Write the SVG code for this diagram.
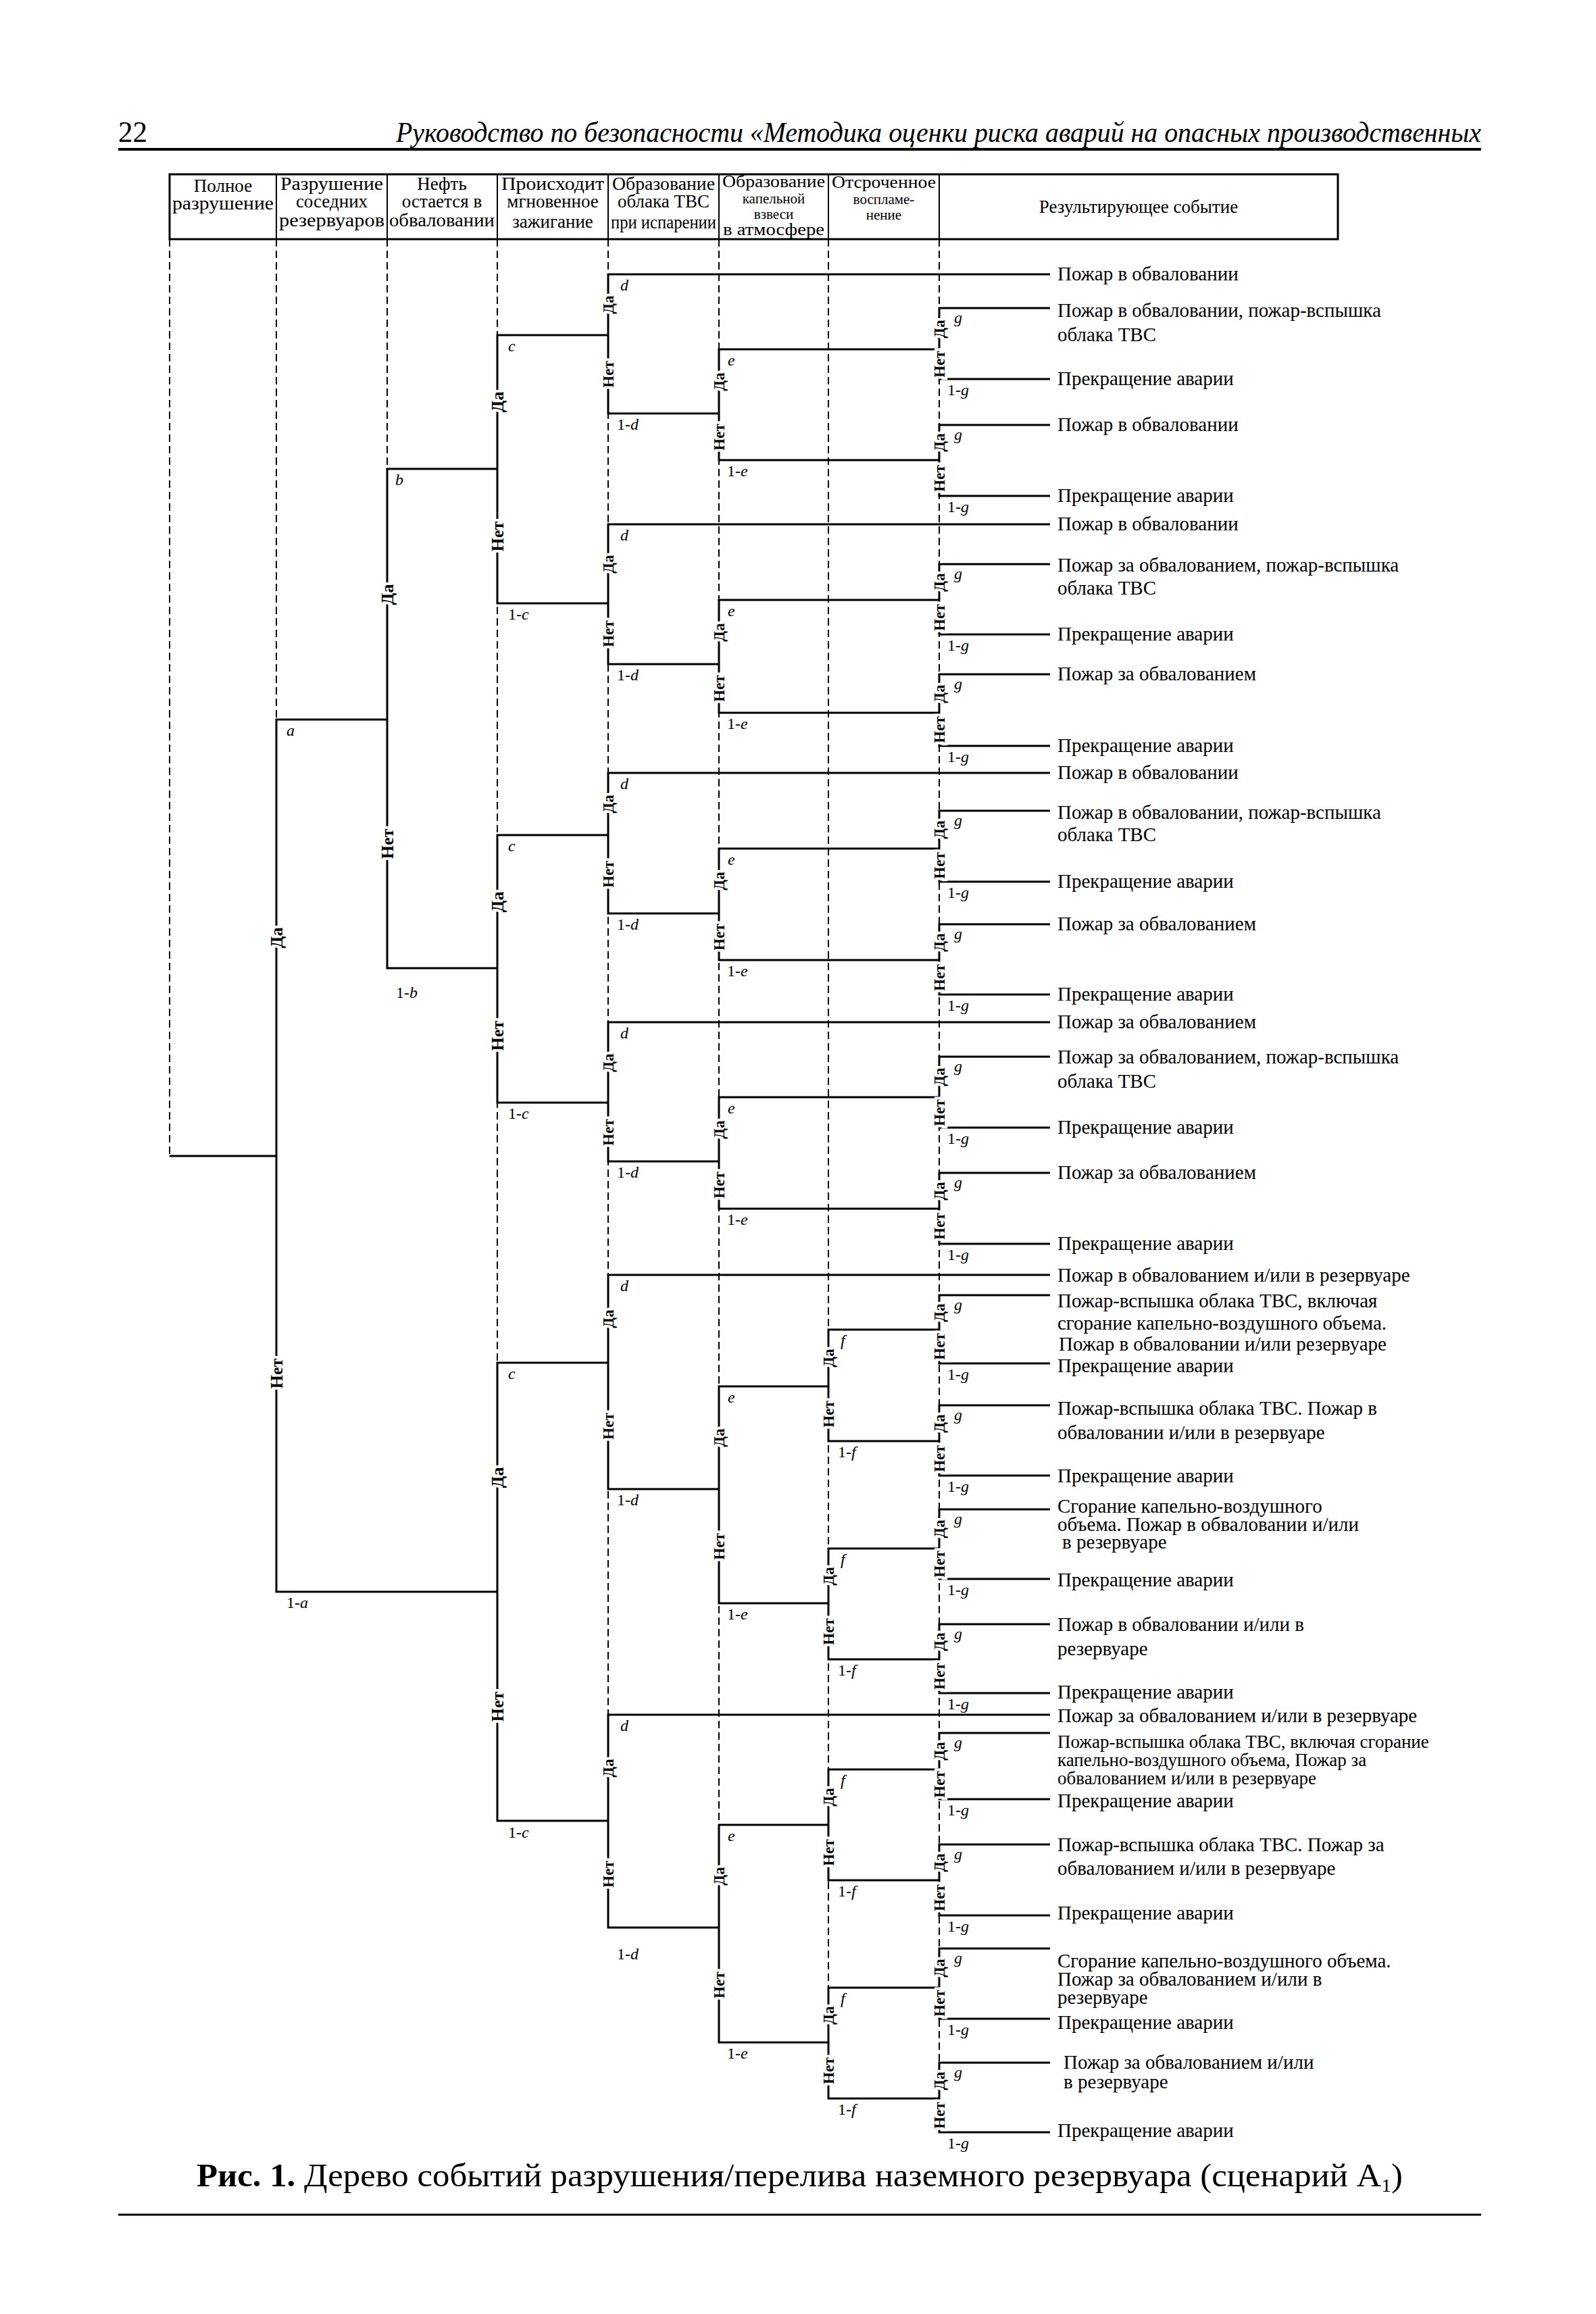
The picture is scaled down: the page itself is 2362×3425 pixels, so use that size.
<svg xmlns="http://www.w3.org/2000/svg" width="2362" height="3425" viewBox="0 0 2362 3425">
<style>
.col{stroke:#000;stroke-width:2;stroke-dasharray:11 6;fill:none}
.br{stroke:#000;stroke-width:3;fill:none}
.rule{stroke:#000;stroke-width:4}
.tb{stroke:#000;stroke-width:3;fill:none}
.tc{stroke:#000;stroke-width:2}
.yn{font-family:"Liberation Serif",serif;font-size:23px;font-weight:bold;text-anchor:middle;fill:#000;stroke:#fff;stroke-width:8px;paint-order:stroke}
.yb{font-size:26px}
.pl{font-family:"Liberation Serif",serif;font-size:24px;fill:#000}
.it{font-style:italic}
.ev{font-family:"Liberation Serif",serif;font-size:29px;fill:#000}
.ev2{font-size:27px}
.hd{font-family:"Liberation Serif",serif;font-size:27px;text-anchor:middle;fill:#000}
.hm{font-size:25px}
.hs{font-size:21px}
</style>
<rect width="2362" height="3425" fill="#fff"/>

<g id="page-header">
<text x="175" y="210" font-family="Liberation Serif,serif" font-size="44" textLength="43" lengthAdjust="spacingAndGlyphs">22</text>
<text x="586" y="210" font-family="Liberation Serif,serif" font-size="42" font-style="italic" textLength="1606" lengthAdjust="spacingAndGlyphs">Руководство по безопасности «Методика оценки риска аварий на опасных производственных</text>
<line class="rule" x1="175" y1="221" x2="2192" y2="221"/>
</g>

<g id="header-table">
<rect class="tb" x="251" y="258" width="1729" height="96"/>
<line class="tc" x1="409" y1="258" x2="409" y2="354"/>
<line class="tc" x1="573" y1="258" x2="573" y2="354"/>
<line class="tc" x1="736" y1="258" x2="736" y2="354"/>
<line class="tc" x1="900" y1="258" x2="900" y2="354"/>
<line class="tc" x1="1064" y1="258" x2="1064" y2="354"/>
<line class="tc" x1="1226" y1="258" x2="1226" y2="354"/>
<line class="tc" x1="1390" y1="258" x2="1390" y2="354"/>
<text class="hd" x="330" y="284">Полное</text>
<text class="hd" x="330" y="310" textLength="150" lengthAdjust="spacingAndGlyphs">разрушение</text>
<text class="hd" x="491" y="281" textLength="152" lengthAdjust="spacingAndGlyphs">Разрушение</text>
<text class="hd" x="491" y="307">соседних</text>
<text class="hd" x="491" y="335" textLength="156" lengthAdjust="spacingAndGlyphs">резервуаров</text>
<text class="hd" x="654" y="281">Нефть</text>
<text class="hd" x="654" y="307">остается в</text>
<text class="hd" x="654" y="335" textLength="156" lengthAdjust="spacingAndGlyphs">обваловании</text>
<text class="hd" x="818" y="281" textLength="152" lengthAdjust="spacingAndGlyphs">Происходит</text>
<text class="hd" x="818" y="307">мгновенное</text>
<text class="hd" x="818" y="337">зажигание</text>
<text class="hd" x="982" y="281" textLength="152" lengthAdjust="spacingAndGlyphs">Образование</text>
<text class="hd" x="982" y="307">облака ТВС</text>
<text class="hd" x="982" y="338" textLength="156" lengthAdjust="spacingAndGlyphs">при испарении</text>
<text class="hd hm" x="1145" y="277" textLength="152" lengthAdjust="spacingAndGlyphs">Образование</text>
<text class="hd hs" x="1145" y="301">капельной</text>
<text class="hd hs" x="1145" y="324">взвеси</text>
<text class="hd hm" x="1145" y="348" textLength="150" lengthAdjust="spacingAndGlyphs">в атмосфере</text>
<text class="hd hm" x="1308" y="278" textLength="154" lengthAdjust="spacingAndGlyphs">Отсроченное</text>
<text class="hd hs" x="1308" y="302">воспламе-</text>
<text class="hd hs" x="1308" y="325">нение</text>
<text class="hd" x="1685" y="315">Результирующее событие</text>
</g>

<g id="columns">
<line class="col" x1="251" y1="354" x2="251" y2="1711"/>
<line class="col" x1="409" y1="354" x2="409" y2="1065"/>
<line class="col" x1="573" y1="354" x2="573" y2="694"/>
<line class="col" x1="736" y1="354" x2="736" y2="2695"/>
<line class="col" x1="900" y1="354" x2="900" y2="2853"/>
<line class="col" x1="1064" y1="354" x2="1064" y2="3023"/>
<line class="col" x1="1226" y1="354" x2="1226" y2="3106"/>
<line class="col" x1="1390" y1="354" x2="1390" y2="3156"/>
</g>

<g id="connectors">
<path class="br" d="M251 1711 H409"/>
<path class="br" d="M573 1065 H409 V2356 H736"/>
<path class="br" d="M736 694 H573 V1433 H736"/>
<path class="br" d="M900 496 H736 V893 H900"/>
<path class="br" d="M900 1236 H736 V1632 H900"/>
<path class="br" d="M900 2017 H736 V2695 H900"/>
<path class="br" d="M1554 406 H900 V612 H1064"/>
<path class="br" d="M1554 776 H900 V983 H1064"/>
<path class="br" d="M1554 1144 H900 V1352 H1064"/>
<path class="br" d="M1554 1513 H900 V1719 H1064"/>
<path class="br" d="M1554 1887 H900 V2204 H1064"/>
<path class="br" d="M1554 2538 H900 V2853 H1064"/>
<path class="br" d="M1390 517 H1064 V681 H1390"/>
<path class="br" d="M1390 888 H1064 V1055 H1390"/>
<path class="br" d="M1390 1256 H1064 V1421 H1390"/>
<path class="br" d="M1390 1624 H1064 V1789 H1390"/>
<path class="br" d="M1226 2052 H1064 V2373 H1226"/>
<path class="br" d="M1226 2701 H1064 V3023 H1226"/>
<path class="br" d="M1390 1968 H1226 V2133 H1390"/>
<path class="br" d="M1390 2292 H1226 V2456 H1390"/>
<path class="br" d="M1390 2619 H1226 V2783 H1390"/>
<path class="br" d="M1390 2942 H1226 V3106 H1390"/>
<path class="br" d="M1554 456 H1390 V561 H1554"/>
<path class="br" d="M1554 629 H1390 V734 H1554"/>
<path class="br" d="M1554 835 H1390 V939 H1554"/>
<path class="br" d="M1554 998 H1390 V1104 H1554"/>
<path class="br" d="M1554 1200 H1390 V1305 H1554"/>
<path class="br" d="M1554 1368 H1390 V1472 H1554"/>
<path class="br" d="M1554 1564 H1390 V1669 H1554"/>
<path class="br" d="M1554 1736 H1390 V1841 H1554"/>
<path class="br" d="M1554 1917 H1390 V2018 H1554"/>
<path class="br" d="M1554 2080 H1390 V2184 H1554"/>
<path class="br" d="M1554 2234 H1390 V2337 H1554"/>
<path class="br" d="M1554 2404 H1390 V2506 H1554"/>
<path class="br" d="M1554 2565 H1390 V2663 H1554"/>
<path class="br" d="M1554 2730 H1390 V2835 H1554"/>
<path class="br" d="M1554 2884 H1390 V2988 H1554"/>
<path class="br" d="M1554 3053 H1390 V3156 H1554"/>
</g>

<g id="node-a">
<text class="yn yb" transform="translate(409,1388) rotate(-90)" y="9">Да</text>
<text class="yn yb" transform="translate(409,2033) rotate(-90)" y="9">Нет</text>
<text class="pl" x="424" y="1089"><tspan class="it">a</tspan></text>
<text class="pl" x="424" y="2380">1-<tspan class="it">a</tspan></text>
</g>
<g id="node-b">
<text class="yn yb" transform="translate(573,880) rotate(-90)" y="9">Да</text>
<text class="yn yb" transform="translate(573,1249) rotate(-90)" y="9">Нет</text>
<text class="pl" x="585" y="718"><tspan class="it">b</tspan></text>
<text class="pl" x="586" y="1477">1-<tspan class="it">b</tspan></text>
</g>
<g id="node-c1">
<text class="yn yb" transform="translate(736,595) rotate(-90)" y="9">Да</text>
<text class="yn yb" transform="translate(736,794) rotate(-90)" y="9">Нет</text>
<text class="pl" x="752" y="520"><tspan class="it">c</tspan></text>
<text class="pl" x="752" y="917">1-<tspan class="it">c</tspan></text>
</g>
<g id="node-c2">
<text class="yn yb" transform="translate(736,1335) rotate(-90)" y="9">Да</text>
<text class="yn yb" transform="translate(736,1533) rotate(-90)" y="9">Нет</text>
<text class="pl" x="752" y="1260"><tspan class="it">c</tspan></text>
<text class="pl" x="752" y="1656">1-<tspan class="it">c</tspan></text>
</g>
<g id="node-c3">
<text class="yn yb" transform="translate(736,2187) rotate(-90)" y="9">Да</text>
<text class="yn yb" transform="translate(736,2526) rotate(-90)" y="9">Нет</text>
<text class="pl" x="752" y="2041"><tspan class="it">c</tspan></text>
<text class="pl" x="752" y="2720">1-<tspan class="it">c</tspan></text>
</g>

<g id="node-d1">
<text class="yn" transform="translate(900,451) rotate(-90)" y="8">Да</text>
<text class="yn" transform="translate(900,554) rotate(-90)" y="8">Нет</text>
<text class="pl" x="918" y="430"><tspan class="it">d</tspan></text>
<text class="pl" x="913" y="636">1-<tspan class="it">d</tspan></text>
</g>
<g id="node-d2">
<text class="yn" transform="translate(900,835) rotate(-90)" y="8">Да</text>
<text class="yn" transform="translate(900,938) rotate(-90)" y="8">Нет</text>
<text class="pl" x="918" y="800"><tspan class="it">d</tspan></text>
<text class="pl" x="913" y="1007">1-<tspan class="it">d</tspan></text>
</g>
<g id="node-d3">
<text class="yn" transform="translate(900,1190) rotate(-90)" y="8">Да</text>
<text class="yn" transform="translate(900,1294) rotate(-90)" y="8">Нет</text>
<text class="pl" x="918" y="1168"><tspan class="it">d</tspan></text>
<text class="pl" x="913" y="1376">1-<tspan class="it">d</tspan></text>
</g>
<g id="node-d4">
<text class="yn" transform="translate(900,1573) rotate(-90)" y="8">Да</text>
<text class="yn" transform="translate(900,1676) rotate(-90)" y="8">Нет</text>
<text class="pl" x="918" y="1537"><tspan class="it">d</tspan></text>
<text class="pl" x="913" y="1743">1-<tspan class="it">d</tspan></text>
</g>
<g id="node-d5">
<text class="yn" transform="translate(900,1952) rotate(-90)" y="8">Да</text>
<text class="yn" transform="translate(900,2111) rotate(-90)" y="8">Нет</text>
<text class="pl" x="918" y="1911"><tspan class="it">d</tspan></text>
<text class="pl" x="913" y="2228">1-<tspan class="it">d</tspan></text>
</g>
<g id="node-d6">
<text class="yn" transform="translate(900,2617) rotate(-90)" y="8">Да</text>
<text class="yn" transform="translate(900,2774) rotate(-90)" y="8">Нет</text>
<text class="pl" x="918" y="2562"><tspan class="it">d</tspan></text>
<text class="pl" x="913" y="2900">1-<tspan class="it">d</tspan></text>
</g>

<g id="node-e1">
<text class="yn" transform="translate(1064,565) rotate(-90)" y="8">Да</text>
<text class="yn" transform="translate(1064,647) rotate(-90)" y="8">Нет</text>
<text class="pl" x="1077" y="541"><tspan class="it">e</tspan></text>
<text class="pl" x="1076" y="705">1-<tspan class="it">e</tspan></text>
</g>
<g id="node-e2">
<text class="yn" transform="translate(1064,936) rotate(-90)" y="8">Да</text>
<text class="yn" transform="translate(1064,1019) rotate(-90)" y="8">Нет</text>
<text class="pl" x="1077" y="912"><tspan class="it">e</tspan></text>
<text class="pl" x="1076" y="1079">1-<tspan class="it">e</tspan></text>
</g>
<g id="node-e3">
<text class="yn" transform="translate(1064,1304) rotate(-90)" y="8">Да</text>
<text class="yn" transform="translate(1064,1387) rotate(-90)" y="8">Нет</text>
<text class="pl" x="1077" y="1280"><tspan class="it">e</tspan></text>
<text class="pl" x="1076" y="1445">1-<tspan class="it">e</tspan></text>
</g>
<g id="node-e4">
<text class="yn" transform="translate(1064,1672) rotate(-90)" y="8">Да</text>
<text class="yn" transform="translate(1064,1754) rotate(-90)" y="8">Нет</text>
<text class="pl" x="1077" y="1648"><tspan class="it">e</tspan></text>
<text class="pl" x="1076" y="1813">1-<tspan class="it">e</tspan></text>
</g>
<g id="node-e5">
<text class="yn" transform="translate(1064,2128) rotate(-90)" y="8">Да</text>
<text class="yn" transform="translate(1064,2289) rotate(-90)" y="8">Нет</text>
<text class="pl" x="1077" y="2076"><tspan class="it">e</tspan></text>
<text class="pl" x="1076" y="2397">1-<tspan class="it">e</tspan></text>
</g>
<g id="node-e6">
<text class="yn" transform="translate(1064,2777) rotate(-90)" y="8">Да</text>
<text class="yn" transform="translate(1064,2938) rotate(-90)" y="8">Нет</text>
<text class="pl" x="1077" y="2725"><tspan class="it">e</tspan></text>
<text class="pl" x="1076" y="3047">1-<tspan class="it">e</tspan></text>
</g>

<g id="node-f1">
<text class="yn" transform="translate(1226,2010) rotate(-90)" y="8">Да</text>
<text class="yn" transform="translate(1226,2093) rotate(-90)" y="8">Нет</text>
<text class="pl" x="1244" y="1992"><tspan class="it">f</tspan></text>
<text class="pl" x="1240" y="2157">1-<tspan class="it">f</tspan></text>
</g>
<g id="node-f2">
<text class="yn" transform="translate(1226,2333) rotate(-90)" y="8">Да</text>
<text class="yn" transform="translate(1226,2415) rotate(-90)" y="8">Нет</text>
<text class="pl" x="1244" y="2316"><tspan class="it">f</tspan></text>
<text class="pl" x="1240" y="2480">1-<tspan class="it">f</tspan></text>
</g>
<g id="node-f3">
<text class="yn" transform="translate(1226,2660) rotate(-90)" y="8">Да</text>
<text class="yn" transform="translate(1226,2742) rotate(-90)" y="8">Нет</text>
<text class="pl" x="1244" y="2643"><tspan class="it">f</tspan></text>
<text class="pl" x="1240" y="2807">1-<tspan class="it">f</tspan></text>
</g>
<g id="node-f4">
<text class="yn" transform="translate(1226,2983) rotate(-90)" y="8">Да</text>
<text class="yn" transform="translate(1226,3065) rotate(-90)" y="8">Нет</text>
<text class="pl" x="1244" y="2966"><tspan class="it">f</tspan></text>
<text class="pl" x="1240" y="3130">1-<tspan class="it">f</tspan></text>
</g>

<g id="nodes-g">
<g id="node-g1"><text class="yn" transform="translate(1390,487) rotate(-90)" y="8">Да</text><text class="yn" transform="translate(1390,539) rotate(-90)" y="8">Нет</text><text class="pl" x="1412" y="478"><tspan class="it">g</tspan></text><text class="pl" x="1402" y="585">1-<tspan class="it">g</tspan></text></g>
<g id="node-g2"><text class="yn" transform="translate(1390,655) rotate(-90)" y="8">Да</text><text class="yn" transform="translate(1390,708) rotate(-90)" y="8">Нет</text><text class="pl" x="1412" y="651"><tspan class="it">g</tspan></text><text class="pl" x="1402" y="758">1-<tspan class="it">g</tspan></text></g>
<g id="node-g3"><text class="yn" transform="translate(1390,862) rotate(-90)" y="8">Да</text><text class="yn" transform="translate(1390,914) rotate(-90)" y="8">Нет</text><text class="pl" x="1412" y="857"><tspan class="it">g</tspan></text><text class="pl" x="1402" y="963">1-<tspan class="it">g</tspan></text></g>
<g id="node-g4"><text class="yn" transform="translate(1390,1027) rotate(-90)" y="8">Да</text><text class="yn" transform="translate(1390,1080) rotate(-90)" y="8">Нет</text><text class="pl" x="1412" y="1020"><tspan class="it">g</tspan></text><text class="pl" x="1402" y="1128">1-<tspan class="it">g</tspan></text></g>
<g id="node-g5"><text class="yn" transform="translate(1390,1228) rotate(-90)" y="8">Да</text><text class="yn" transform="translate(1390,1281) rotate(-90)" y="8">Нет</text><text class="pl" x="1412" y="1222"><tspan class="it">g</tspan></text><text class="pl" x="1402" y="1329">1-<tspan class="it">g</tspan></text></g>
<g id="node-g6"><text class="yn" transform="translate(1390,1395) rotate(-90)" y="8">Да</text><text class="yn" transform="translate(1390,1447) rotate(-90)" y="8">Нет</text><text class="pl" x="1412" y="1390"><tspan class="it">g</tspan></text><text class="pl" x="1402" y="1496">1-<tspan class="it">g</tspan></text></g>
<g id="node-g7"><text class="yn" transform="translate(1390,1594) rotate(-90)" y="8">Да</text><text class="yn" transform="translate(1390,1647) rotate(-90)" y="8">Нет</text><text class="pl" x="1412" y="1586"><tspan class="it">g</tspan></text><text class="pl" x="1402" y="1693">1-<tspan class="it">g</tspan></text></g>
<g id="node-g8"><text class="yn" transform="translate(1390,1763) rotate(-90)" y="8">Да</text><text class="yn" transform="translate(1390,1815) rotate(-90)" y="8">Нет</text><text class="pl" x="1412" y="1758"><tspan class="it">g</tspan></text><text class="pl" x="1402" y="1865">1-<tspan class="it">g</tspan></text></g>
<g id="node-g9"><text class="yn" transform="translate(1390,1943) rotate(-90)" y="8">Да</text><text class="yn" transform="translate(1390,1993) rotate(-90)" y="8">Нет</text><text class="pl" x="1412" y="1939"><tspan class="it">g</tspan></text><text class="pl" x="1402" y="2042">1-<tspan class="it">g</tspan></text></g>
<g id="node-g10"><text class="yn" transform="translate(1390,2107) rotate(-90)" y="8">Да</text><text class="yn" transform="translate(1390,2159) rotate(-90)" y="8">Нет</text><text class="pl" x="1412" y="2102"><tspan class="it">g</tspan></text><text class="pl" x="1402" y="2208">1-<tspan class="it">g</tspan></text></g>
<g id="node-g11"><text class="yn" transform="translate(1390,2263) rotate(-90)" y="8">Да</text><text class="yn" transform="translate(1390,2315) rotate(-90)" y="8">Нет</text><text class="pl" x="1412" y="2256"><tspan class="it">g</tspan></text><text class="pl" x="1402" y="2361">1-<tspan class="it">g</tspan></text></g>
<g id="node-g12"><text class="yn" transform="translate(1390,2430) rotate(-90)" y="8">Да</text><text class="yn" transform="translate(1390,2481) rotate(-90)" y="8">Нет</text><text class="pl" x="1412" y="2426"><tspan class="it">g</tspan></text><text class="pl" x="1402" y="2530">1-<tspan class="it">g</tspan></text></g>
<g id="node-g13"><text class="yn" transform="translate(1390,2592) rotate(-90)" y="8">Да</text><text class="yn" transform="translate(1390,2641) rotate(-90)" y="8">Нет</text><text class="pl" x="1412" y="2587"><tspan class="it">g</tspan></text><text class="pl" x="1402" y="2687">1-<tspan class="it">g</tspan></text></g>
<g id="node-g14"><text class="yn" transform="translate(1390,2757) rotate(-90)" y="8">Да</text><text class="yn" transform="translate(1390,2809) rotate(-90)" y="8">Нет</text><text class="pl" x="1412" y="2752"><tspan class="it">g</tspan></text><text class="pl" x="1402" y="2859">1-<tspan class="it">g</tspan></text></g>
<g id="node-g15"><text class="yn" transform="translate(1390,2913) rotate(-90)" y="8">Да</text><text class="yn" transform="translate(1390,2965) rotate(-90)" y="8">Нет</text><text class="pl" x="1412" y="2906"><tspan class="it">g</tspan></text><text class="pl" x="1402" y="3012">1-<tspan class="it">g</tspan></text></g>
<g id="node-g16"><text class="yn" transform="translate(1390,3080) rotate(-90)" y="8">Да</text><text class="yn" transform="translate(1390,3131) rotate(-90)" y="8">Нет</text><text class="pl" x="1412" y="3075"><tspan class="it">g</tspan></text><text class="pl" x="1402" y="3180">1-<tspan class="it">g</tspan></text></g>
</g>

<g id="outcomes">
<g id="out-1"><text class="ev" x="1565" y="415">Пожар в обваловании</text></g>
<g id="out-2"><text class="ev" x="1565" y="469">Пожар в обваловании, пожар-вспышка</text><text class="ev" x="1565" y="505">облака ТВС</text></g>
<g id="out-3"><text class="ev" x="1565" y="570">Прекращение аварии</text></g>
<g id="out-4"><text class="ev" x="1565" y="638">Пожар в обваловании</text></g>
<g id="out-5"><text class="ev" x="1565" y="743">Прекращение аварии</text></g>
<g id="out-6"><text class="ev" x="1565" y="785">Пожар в обваловании</text></g>
<g id="out-7"><text class="ev" x="1565" y="846">Пожар за обвалованием, пожар-вспышка</text><text class="ev" x="1565" y="880">облака ТВС</text></g>
<g id="out-8"><text class="ev" x="1565" y="948">Прекращение аварии</text></g>
<g id="out-9"><text class="ev" x="1565" y="1007">Пожар за обвалованием</text></g>
<g id="out-10"><text class="ev" x="1565" y="1113">Прекращение аварии</text></g>
<g id="out-11"><text class="ev" x="1565" y="1153">Пожар в обваловании</text></g>
<g id="out-12"><text class="ev" x="1565" y="1212">Пожар в обваловании, пожар-вспышка</text><text class="ev" x="1565" y="1245">облака ТВС</text></g>
<g id="out-13"><text class="ev" x="1565" y="1314">Прекращение аварии</text></g>
<g id="out-14"><text class="ev" x="1565" y="1377">Пожар за обвалованием</text></g>
<g id="out-15"><text class="ev" x="1565" y="1481">Прекращение аварии</text></g>
<g id="out-16"><text class="ev" x="1565" y="1522">Пожар за обвалованием</text></g>
<g id="out-17"><text class="ev" x="1565" y="1574">Пожар за обвалованием, пожар-вспышка</text><text class="ev" x="1565" y="1610">облака ТВС</text></g>
<g id="out-18"><text class="ev" x="1565" y="1678">Прекращение аварии</text></g>
<g id="out-19"><text class="ev" x="1565" y="1745">Пожар за обвалованием</text></g>
<g id="out-20"><text class="ev" x="1565" y="1850">Прекращение аварии</text></g>
<g id="out-21"><text class="ev" x="1565" y="1897">Пожар в обвалованием и/или в резервуаре</text></g>
<g id="out-22"><text class="ev" x="1565" y="1935">Пожар-вспышка облака ТВС, включая</text><text class="ev" x="1565" y="1968">сгорание капельно-воздушного объема.</text><text class="ev" x="1567" y="1999">Пожар в обваловании и/или резервуаре</text></g>
<g id="out-23"><text class="ev" x="1565" y="2031">Прекращение аварии</text></g>
<g id="out-24"><text class="ev" x="1565" y="2094">Пожар-вспышка облака ТВС. Пожар в</text><text class="ev" x="1565" y="2130">обваловании и/или в резервуаре</text></g>
<g id="out-25"><text class="ev" x="1565" y="2194">Прекращение аварии</text></g>
<g id="out-26"><text class="ev" x="1565" y="2239">Сгорание капельно-воздушного</text><text class="ev" x="1565" y="2266">объема. Пожар в обваловании и/или</text><text class="ev" x="1572" y="2292">в резервуаре</text></g>
<g id="out-27"><text class="ev" x="1565" y="2348">Прекращение аварии</text></g>
<g id="out-28"><text class="ev" x="1565" y="2414">Пожар в обваловании и/или в</text><text class="ev" x="1565" y="2450">резервуаре</text></g>
<g id="out-29"><text class="ev" x="1565" y="2514">Прекращение аварии</text></g>
<g id="out-30"><text class="ev" x="1565" y="2549">Пожар за обвалованием и/или в резервуаре</text></g>
<g id="out-31"><text class="ev ev2" x="1565" y="2587">Пожар-вспышка облака ТВС, включая сгорание</text><text class="ev ev2" x="1565" y="2614">капельно-воздушного объема, Пожар за</text><text class="ev ev2" x="1565" y="2641">обвалованием и/или в резервуаре</text></g>
<g id="out-32"><text class="ev" x="1565" y="2675">Прекращение аварии</text></g>
<g id="out-33"><text class="ev" x="1565" y="2740">Пожар-вспышка облака ТВС. Пожар за</text><text class="ev" x="1565" y="2775">обвалованием и/или в резервуаре</text></g>
<g id="out-34"><text class="ev" x="1565" y="2841">Прекращение аварии</text></g>
<g id="out-35"><text class="ev" x="1565" y="2912">Сгорание капельно-воздушного объема.</text><text class="ev" x="1565" y="2939">Пожар за обвалованием и/или в</text><text class="ev" x="1565" y="2966">резервуаре</text></g>
<g id="out-36"><text class="ev" x="1565" y="3003">Прекращение аварии</text></g>
<g id="out-37"><text class="ev" x="1574" y="3062">Пожар за обвалованием и/или</text><text class="ev" x="1574" y="3091">в резервуаре</text></g>
<g id="out-38"><text class="ev" x="1565" y="3163">Прекращение аварии</text></g>
</g>

<g id="caption">
<text x="291" y="3236" font-family="Liberation Serif,serif" font-size="48" textLength="1785" lengthAdjust="spacingAndGlyphs"><tspan font-weight="bold">Рис. 1.</tspan> Дерево событий разрушения/перелива наземного резервуара (сценарий А<tspan font-size="28" baseline-shift="-8">1</tspan>)</text>
<line x1="175" y1="3278" x2="2192" y2="3278" stroke="#000" stroke-width="3"/>
</g>
</svg>
